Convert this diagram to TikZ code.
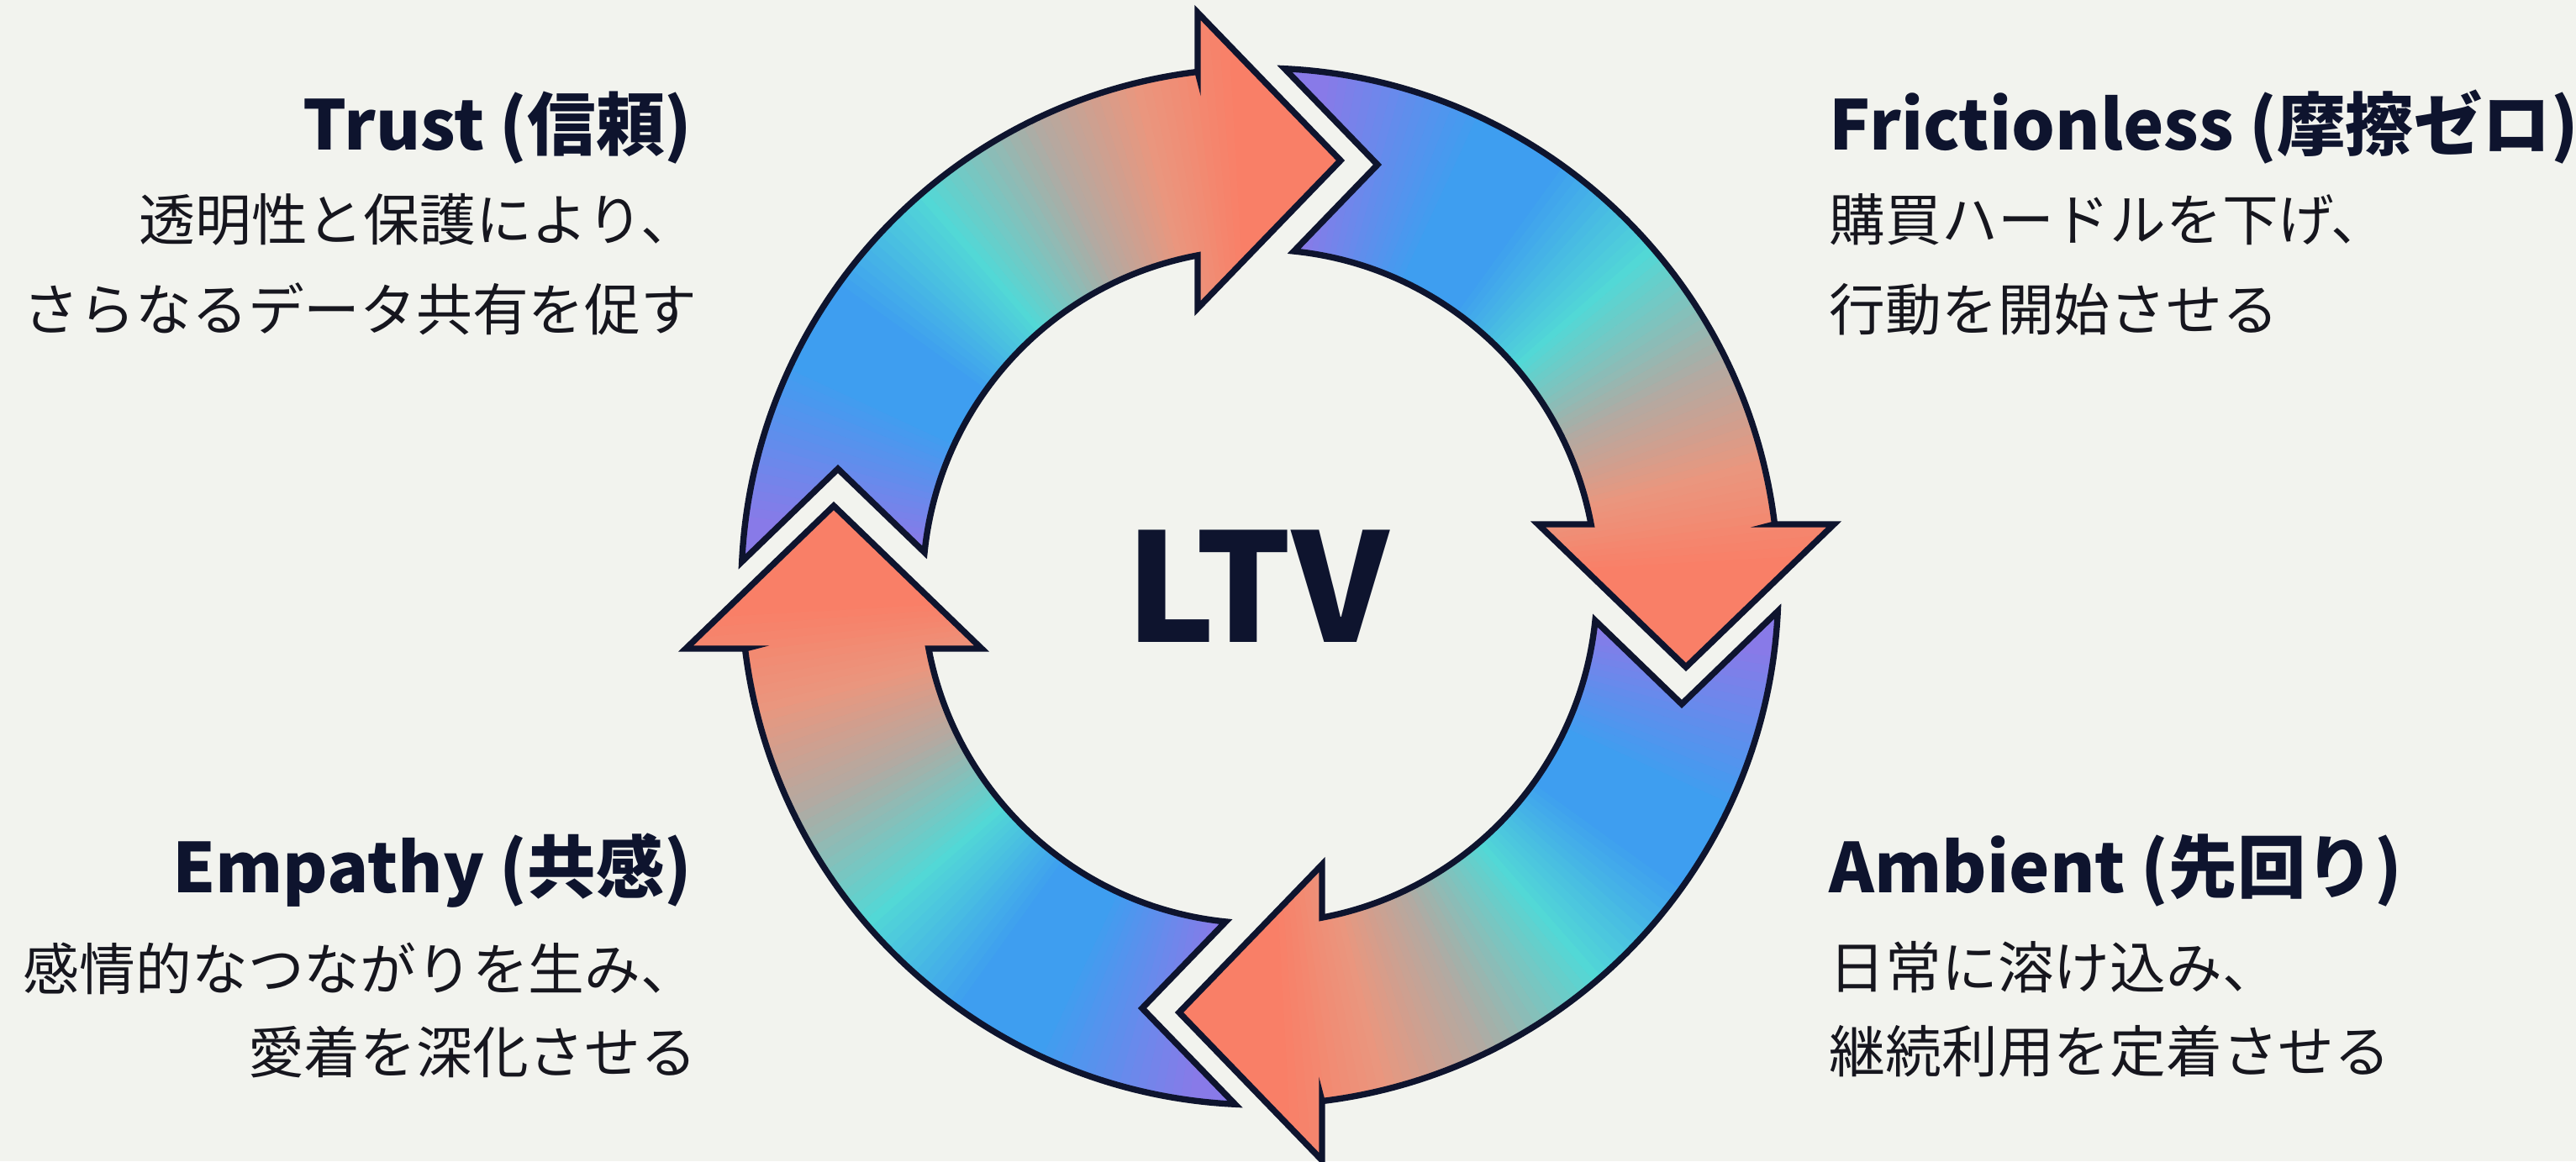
\documentclass[tikz,border=0pt]{standalone}
\usepackage{fontspec}
\setmainfont{Noto Sans CJK JP}
\definecolor{bgc}{RGB}{242,243,238}
\definecolor{navy}{RGB}{14,20,46}
\definecolor{ink}{RGB}{22,22,30}
\definecolor{cP}{RGB}{136,122,232}
\definecolor{cB}{RGB}{62,158,240}
\definecolor{cC}{RGB}{82,216,214}
\definecolor{cG}{RGB}{178,170,162}
\definecolor{cS}{RGB}{234,150,126}
\definecolor{cO}{RGB}{249,127,103}
\def\arrowpath{(-0.74,6.125) -- (-0.74,6.83) -- (0.96,5.07) -- (-0.74,3.31) -- (-0.74,3.941) arc[start angle=100.63, end angle=174.2, radius=4.01] -- (-5.02,1.40) -- (177.26:6.17) arc[start angle=177.26, end angle=96.89, radius=6.17] -- cycle}
\newcommand{\gradwedges}{%
  \foreach \a/\b/\ca/\cb in {192/172/cP/cP, 172/154/cP/cB, 154/144/cB/cB, 144/130/cB/cC, 130/115/cC/cG, 115/103/cG/cS, 103/92/cS/cO, 92/70/cO/cO} {
    \pgfmathtruncatemacro\n{\a-\b}
    \foreach \i in {1,...,\n} {
      \pgfmathsetmacro\ang{\a-\i}
      \pgfmathsetmacro\angb{\a-\i+1.2}
      \pgfmathtruncatemacro\p{100*\i/\n}
      \fill[\cb!\p!\ca] (0,0) -- (\ang:7.6) -- (\angb:7.6) -- cycle;
    }
  }%
}
\tikzset{
  outline/.style={draw=navy, line width=2.1pt, line join=miter},
  ttl/.style={font=\bfseries\fontsize{23.2pt}{28pt}\selectfont, text=navy, inner sep=0pt},
  bdy/.style={font=\fontsize{19pt}{30pt}\selectfont, text=ink, inner sep=0pt},
}
\begin{document}
\begin{tikzpicture}
\useasboundingbox (0,0) rectangle (30.65,13.82);
\fill[bgc] (0,0) rectangle (30.65,13.82);
\foreach \r in {0,-90,-180,-270} {
  \begin{scope}[shift={(14.99,6.84)}, rotate=\r]
    \begin{scope}
      \clip \arrowpath;
      \gradwedges
    \end{scope}
    \draw[outline] \arrowpath;
  \end{scope}
}
\node[font=\bfseries\fontsize{51pt}{56pt}\selectfont, text=navy, inner sep=0pt] (ltv) at (14.96,6.84) {LTV};
% Trust
\node[ttl, anchor=base east] (trustT) at (8.24,12.03) {Trust (信頼)};
\node[bdy, anchor=base east] (trustA) at (8.30,10.95) {透明性と保護により、};
\node[bdy, anchor=base east] (trustB) at (8.30,9.88) {さらなるデータ共有を促す};
% Frictionless
\node[ttl, anchor=base west] (fricT) at (21.76,12.03) {Frictionless (摩擦ゼロ)};
\node[bdy, anchor=base west] (fricA) at (21.76,10.95) {購買ハードルを下げ、};
\node[bdy, anchor=base west] (fricB) at (21.76,9.88) {行動を開始させる};
% Empathy
\node[ttl, anchor=base east] (empT) at (8.24,3.20) {Empathy (共感)};
\node[bdy, anchor=base east] (empA) at (8.30,2.04) {感情的なつながりを生み、};
\node[bdy, anchor=base east] (empB) at (8.30,1.05) {愛着を深化させる};
% Ambient
\node[ttl, anchor=base west] (ambT) at (21.76,3.20) {Ambient (先回り)};
\node[bdy, anchor=base west] (ambA) at (21.76,2.06) {日常に溶け込み、};
\node[bdy, anchor=base west] (ambB) at (21.76,1.06) {継続利用を定着させる};
\end{tikzpicture}
\end{document}
